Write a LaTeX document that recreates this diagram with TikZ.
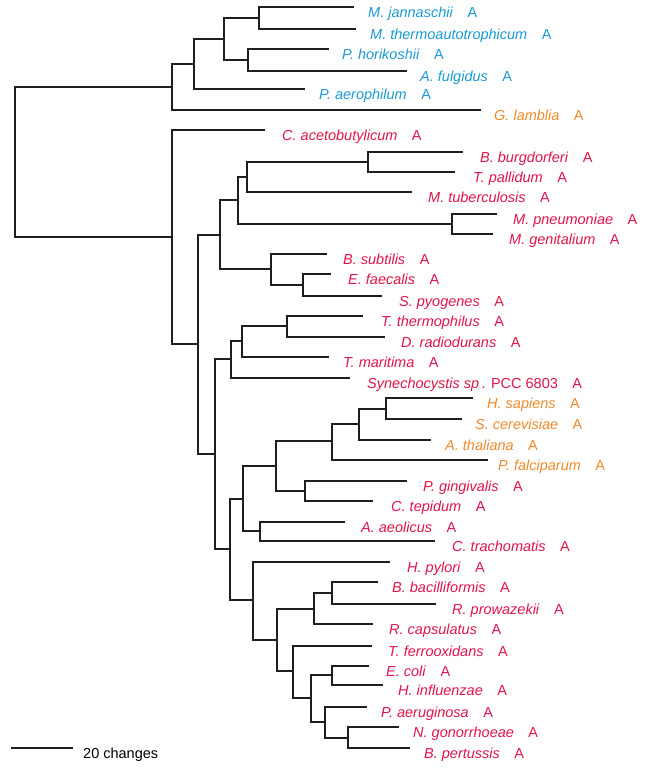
\documentclass[tikz,border=0pt]{standalone}
\usepackage{fontspec}
\setmainfont{Liberation Sans}
\definecolor{archblue}{HTML}{1A9AD6}
\definecolor{eukorange}{HTML}{EE8A2A}
\definecolor{bactred}{HTML}{E2144A}
\begin{document}
\begin{tikzpicture}[x=1pt,y=-1pt,
    br/.style={draw=black!88, line width=1.3pt},
    leaf/.style={anchor=base west, inner sep=0pt, font=\fontsize{14.5}{17}\selectfont},
    arch/.style={leaf, text=archblue},
    euk/.style={leaf, text=eukorange},
    bact/.style={leaf, text=bactred}]
    \useasboundingbox (0,0) rectangle (646,768);
    % inner nodes of the tree
    \coordinate (root) at (15,161);
    \coordinate (arch0) at (172,87);
    \coordinate (arch1) at (194,64);
    \coordinate (arch2) at (224,39);
    \coordinate (arch3) at (259,18);
    \coordinate (arch4) at (248,60);
    \coordinate (bac0) at (172,237);
    \coordinate (bac1) at (198,344);
    \coordinate (bac2) at (220,235);
    \coordinate (bac3) at (215,454);
    \coordinate (bac4) at (238,200);
    \coordinate (bac5) at (271,269);
    \coordinate (bac6) at (247,177);
    \coordinate (bac7) at (452,224);
    \coordinate (bac8) at (368,162);
    \coordinate (bac9) at (303,285);
    \coordinate (bac10) at (231,359);
    \coordinate (bac11) at (230,549);
    \coordinate (bac12) at (242,341);
    \coordinate (bac13) at (287,326);
    \coordinate (bac14) at (243,499);
    \coordinate (bac15) at (253,600);
    \coordinate (bac16) at (276,466);
    \coordinate (bac17) at (260,531);
    \coordinate (bac18) at (332,441);
    \coordinate (bac19) at (305,491);
    \coordinate (bac20) at (359,424);
    \coordinate (bac21) at (386,409);
    \coordinate (bac22) at (277,640);
    \coordinate (bac23) at (314,609);
    \coordinate (bac24) at (293,671);
    \coordinate (bac25) at (332,593);
    \coordinate (bac26) at (311,698);
    \coordinate (bac27) at (332,675);
    \coordinate (bac28) at (325,722);
    \coordinate (bac29) at (348,738);
    % leaves: branch ends and names
    \coordinate (mjan) at (354,7);   \node[arch] (mjan-l) at (368,17.5) {\textit{M. jannaschii}\quad A};
    \coordinate (mthe) at (356,29);  \node[arch] (mthe-l) at (370,39.5) {\textit{M. thermoautotrophicum}\quad A};
    \coordinate (phor) at (329,49);  \node[arch] (phor-l) at (342,59.5) {\textit{P. horikoshii}\quad A};
    \coordinate (aful) at (407,71);  \node[arch] (aful-l) at (420,81.5) {\textit{A. fulgidus}\quad A};
    \coordinate (paer) at (305,89);  \node[arch] (paer-l) at (319,99.5) {\textit{P. aerophilum}\quad A};
    \coordinate (glam) at (481,110); \node[euk] (glam-l) at (494,120.5) {\textit{G. lamblia}\quad A};
    \coordinate (cace) at (265,130); \node[bact] (cace-l) at (282,140.5) {\textit{C. acetobutylicum}\quad A};
    \coordinate (bbur) at (463,152); \node[bact] (bbur-l) at (480,162.5) {\textit{B. burgdorferi}\quad A};
    \coordinate (tpal) at (455,172); \node[bact] (tpal-l) at (473,182.5) {\textit{T. pallidum}\quad A};
    \coordinate (mtub) at (412,192); \node[bact] (mtub-l) at (428,202.5) {\textit{M. tuberculosis}\quad A};
    \coordinate (mpne) at (497,214); \node[bact] (mpne-l) at (513,224.5) {\textit{M. pneumoniae}\quad A};
    \coordinate (mgen) at (493,234); \node[bact] (mgen-l) at (509,244.5) {\textit{M. genitalium}\quad A};
    \coordinate (bsub) at (327,254); \node[bact] (bsub-l) at (343,264.5) {\textit{B. subtilis}\quad A};
    \coordinate (efae) at (331,274); \node[bact] (efae-l) at (348,284.5) {\textit{E. faecalis}\quad A};
    \coordinate (spyo) at (382,296); \node[bact] (spyo-l) at (399,306.5) {\textit{S. pyogenes}\quad A};
    \coordinate (tthe) at (363,316); \node[bact] (tthe-l) at (381,326.5) {\textit{T. thermophilus}\quad A};
    \coordinate (drad) at (385,337); \node[bact] (drad-l) at (401,347.5) {\textit{D. radiodurans}\quad A};
    \coordinate (tmar) at (329,357); \node[bact] (tmar-l) at (343,367.5) {\textit{T. maritima}\quad A};
    \coordinate (syne) at (350,378); \node[bact] (syne-l) at (367,388.5) {\textit{Synechocystis sp}\,. PCC 6803\quad A};
    \coordinate (hsap) at (473,398); \node[euk] (hsap-l) at (487,408.5) {\textit{H. sapiens}\quad A};
    \coordinate (scer) at (462,419); \node[euk] (scer-l) at (475,429.5) {\textit{S. cerevisiae}\quad A};
    \coordinate (atha) at (431,440); \node[euk] (atha-l) at (445,450.5) {\textit{A. thaliana}\quad A};
    \coordinate (pfal) at (488,460); \node[euk] (pfal-l) at (498,470.5) {\textit{P. falciparum}\quad A};
    \coordinate (pgin) at (407,481); \node[bact] (pgin-l) at (423,491.5) {\textit{P. gingivalis}\quad A};
    \coordinate (ctep) at (373,501); \node[bact] (ctep-l) at (391,511.5) {\textit{C. tepidum}\quad A};
    \coordinate (aaeo) at (345,522); \node[bact] (aaeo-l) at (361,532.5) {\textit{A. aeolicus}\quad A};
    \coordinate (ctra) at (435,541); \node[bact] (ctra-l) at (452,551.5) {\textit{C. trachomatis}\quad A};
    \coordinate (hpyl) at (390,562); \node[bact] (hpyl-l) at (407,572.5) {\textit{H. pylori}\quad A};
    \coordinate (bbac) at (378,582); \node[bact] (bbac-l) at (392,592.5) {\textit{B. bacilliformis}\quad A};
    \coordinate (rpro) at (436,604); \node[bact] (rpro-l) at (452,614.5) {\textit{R. prowazekii}\quad A};
    \coordinate (rcap) at (373,624); \node[bact] (rcap-l) at (389,634.5) {\textit{R. capsulatus}\quad A};
    \coordinate (tfer) at (372,646); \node[bact] (tfer-l) at (388,656.5) {\textit{T. ferrooxidans}\quad A};
    \coordinate (ecol) at (369,666); \node[bact] (ecol-l) at (386,676.5) {\textit{E. coli}\quad A};
    \coordinate (hinf) at (383,685); \node[bact] (hinf-l) at (398,695.5) {\textit{H. influenzae}\quad A};
    \coordinate (paeg) at (367,707); \node[bact] (paeg-l) at (381,717.5) {\textit{P. aeruginosa}\quad A};
    \coordinate (ngon) at (399,727); \node[bact] (ngon-l) at (413,737.5) {\textit{N. gonorrhoeae}\quad A};
    \coordinate (bper) at (410,748); \node[bact] (bper-l) at (424,758.5) {\textit{B. pertussis}\quad A};
    % branches
    \draw[br] (root) |- (arch0) (root) |- (bac0);
    \draw[br] (arch0) |- (arch1) (arch0) |- (glam);
    \draw[br] (arch1) |- (arch2) (arch1) |- (paer);
    \draw[br] (arch2) |- (arch3) (arch2) |- (arch4);
    \draw[br] (arch3) |- (mjan) (arch3) |- (mthe);
    \draw[br] (arch4) |- (phor) (arch4) |- (aful);
    \draw[br] (bac0) |- (cace) (bac0) |- (bac1);
    \draw[br] (bac1) |- (bac2) (bac1) |- (bac3);
    \draw[br] (bac2) |- (bac4) (bac2) |- (bac5);
    \draw[br] (bac4) |- (bac6) (bac4) |- (bac7);
    \draw[br] (bac6) |- (bac8) (bac6) |- (mtub);
    \draw[br] (bac8) |- (bbur) (bac8) |- (tpal);
    \draw[br] (bac7) |- (mpne) (bac7) |- (mgen);
    \draw[br] (bac5) |- (bsub) (bac5) |- (bac9);
    \draw[br] (bac9) |- (efae) (bac9) |- (spyo);
    \draw[br] (bac3) |- (bac10) (bac3) |- (bac11);
    \draw[br] (bac10) |- (bac12) (bac10) |- (syne);
    \draw[br] (bac12) |- (bac13) (bac12) |- (tmar);
    \draw[br] (bac13) |- (tthe) (bac13) |- (drad);
    \draw[br] (bac11) |- (bac14) (bac11) |- (bac15);
    \draw[br] (bac14) |- (bac16) (bac14) |- (bac17);
    \draw[br] (bac16) |- (bac18) (bac16) |- (bac19);
    \draw[br] (bac18) |- (bac20) (bac18) |- (pfal);
    \draw[br] (bac20) |- (bac21) (bac20) |- (atha);
    \draw[br] (bac21) |- (hsap) (bac21) |- (scer);
    \draw[br] (bac19) |- (pgin) (bac19) |- (ctep);
    \draw[br] (bac17) |- (aaeo) (bac17) |- (ctra);
    \draw[br] (bac15) |- (hpyl) (bac15) |- (bac22);
    \draw[br] (bac22) |- (bac23) (bac22) |- (bac24);
    \draw[br] (bac23) |- (bac25) (bac23) |- (rcap);
    \draw[br] (bac25) |- (bbac) (bac25) |- (rpro);
    \draw[br] (bac24) |- (tfer) (bac24) |- (bac26);
    \draw[br] (bac26) |- (bac27) (bac26) |- (bac28);
    \draw[br] (bac27) |- (ecol) (bac27) |- (hinf);
    \draw[br] (bac28) |- (paeg) (bac28) |- (bac29);
    \draw[br] (bac29) |- (ngon) (bac29) |- (bper);
    % scale bar
    \coordinate (bar-l) at (11,748);
    \coordinate (bar-r) at (73,748);
    \draw[br] (bar-l) -- (bar-r);
    \node[leaf] (bar-txt) at (83,758) {20 changes};
\end{tikzpicture}
\end{document}
